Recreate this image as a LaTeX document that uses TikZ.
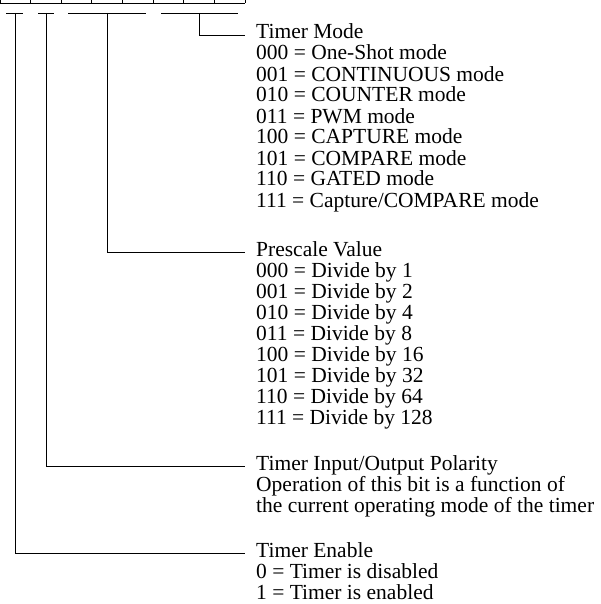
\documentclass[tikz,border=0pt]{standalone}
\usepackage{fontspec}
\setmainfont{Liberation Serif}
\usetikzlibrary{positioning}

\begin{document}
\begin{tikzpicture}[x=1pt,y=-1pt,
    title/.style={anchor=west,inner xsep=11pt,inner ysep=0pt,text height=14pt,text depth=6pt,font=\fontsize{21.5}{21}\selectfont},
    list/.style={anchor=base west,inner xsep=11pt,inner ysep=0pt,align=left,font=\fontsize{21.5}{21}\selectfont},
    reg/.style={line width=0.8pt}]
    \useasboundingbox (0,0) rectangle (601,604);

    % bottom edge of the bit row
    \draw[reg] (0,3) -- (245,3);
    \foreach \k in {0,...,8}
        \draw[reg] (30.625*\k,0) -- (30.625*\k,3);

    % brackets under the bit fields
    \coordinate (enbit) at (15,13);
    \coordinate (polbit) at (46,13);
    \coordinate (prebit) at (107,13);
    \coordinate (modebit) at (199,13);
    \draw[reg] (6,13) -- (23,13);
    \draw[reg] (38,13) -- (54,13);
    \draw[reg] (68,13) -- (146,13);
    \draw[reg] (161,13) -- (238,13);

    % Timer Mode (list placed at the baseline of its last line)
    \node[title] (mode) at (245,35) {Timer Mode};
    \node[list] (modelist) at (245,207) {000 = One-Shot mode\\001 = CONTINUOUS mode\\010 = COUNTER mode\\011 = PWM mode\\100 = CAPTURE mode\\101 = COMPARE mode\\110 = GATED mode\\111 = Capture/COMPARE mode};
    \draw[reg] (modebit) |- (mode.west);

    % Prescale Value
    \node[title] (pre) at (245,252) {Prescale Value};
    \node[list] (prelist) at (245,424) {000 = Divide by 1\\001 = Divide by 2\\010 = Divide by 4\\011 = Divide by 8\\100 = Divide by 16\\101 = Divide by 32\\110 = Divide by 64\\111 = Divide by 128};
    \draw[reg] (prebit) |- (pre.west);

    % Timer Input/Output Polarity
    \node[title] (pol) at (245,466) {Timer Input/Output Polarity};
    \node[list] (pollist) at (245,512) {Operation of this bit is a function of\\the current operating mode of the timer};
    \draw[reg] (polbit) |- (pol.west);

    % Timer Enable
    \node[title] (en) at (245,553) {Timer Enable};
    \node[list] (enlist) at (245,599) {0 = Timer is disabled\\1 = Timer is enabled};
    \draw[reg] (enbit) |- (en.west);
\end{tikzpicture}
\end{document}
